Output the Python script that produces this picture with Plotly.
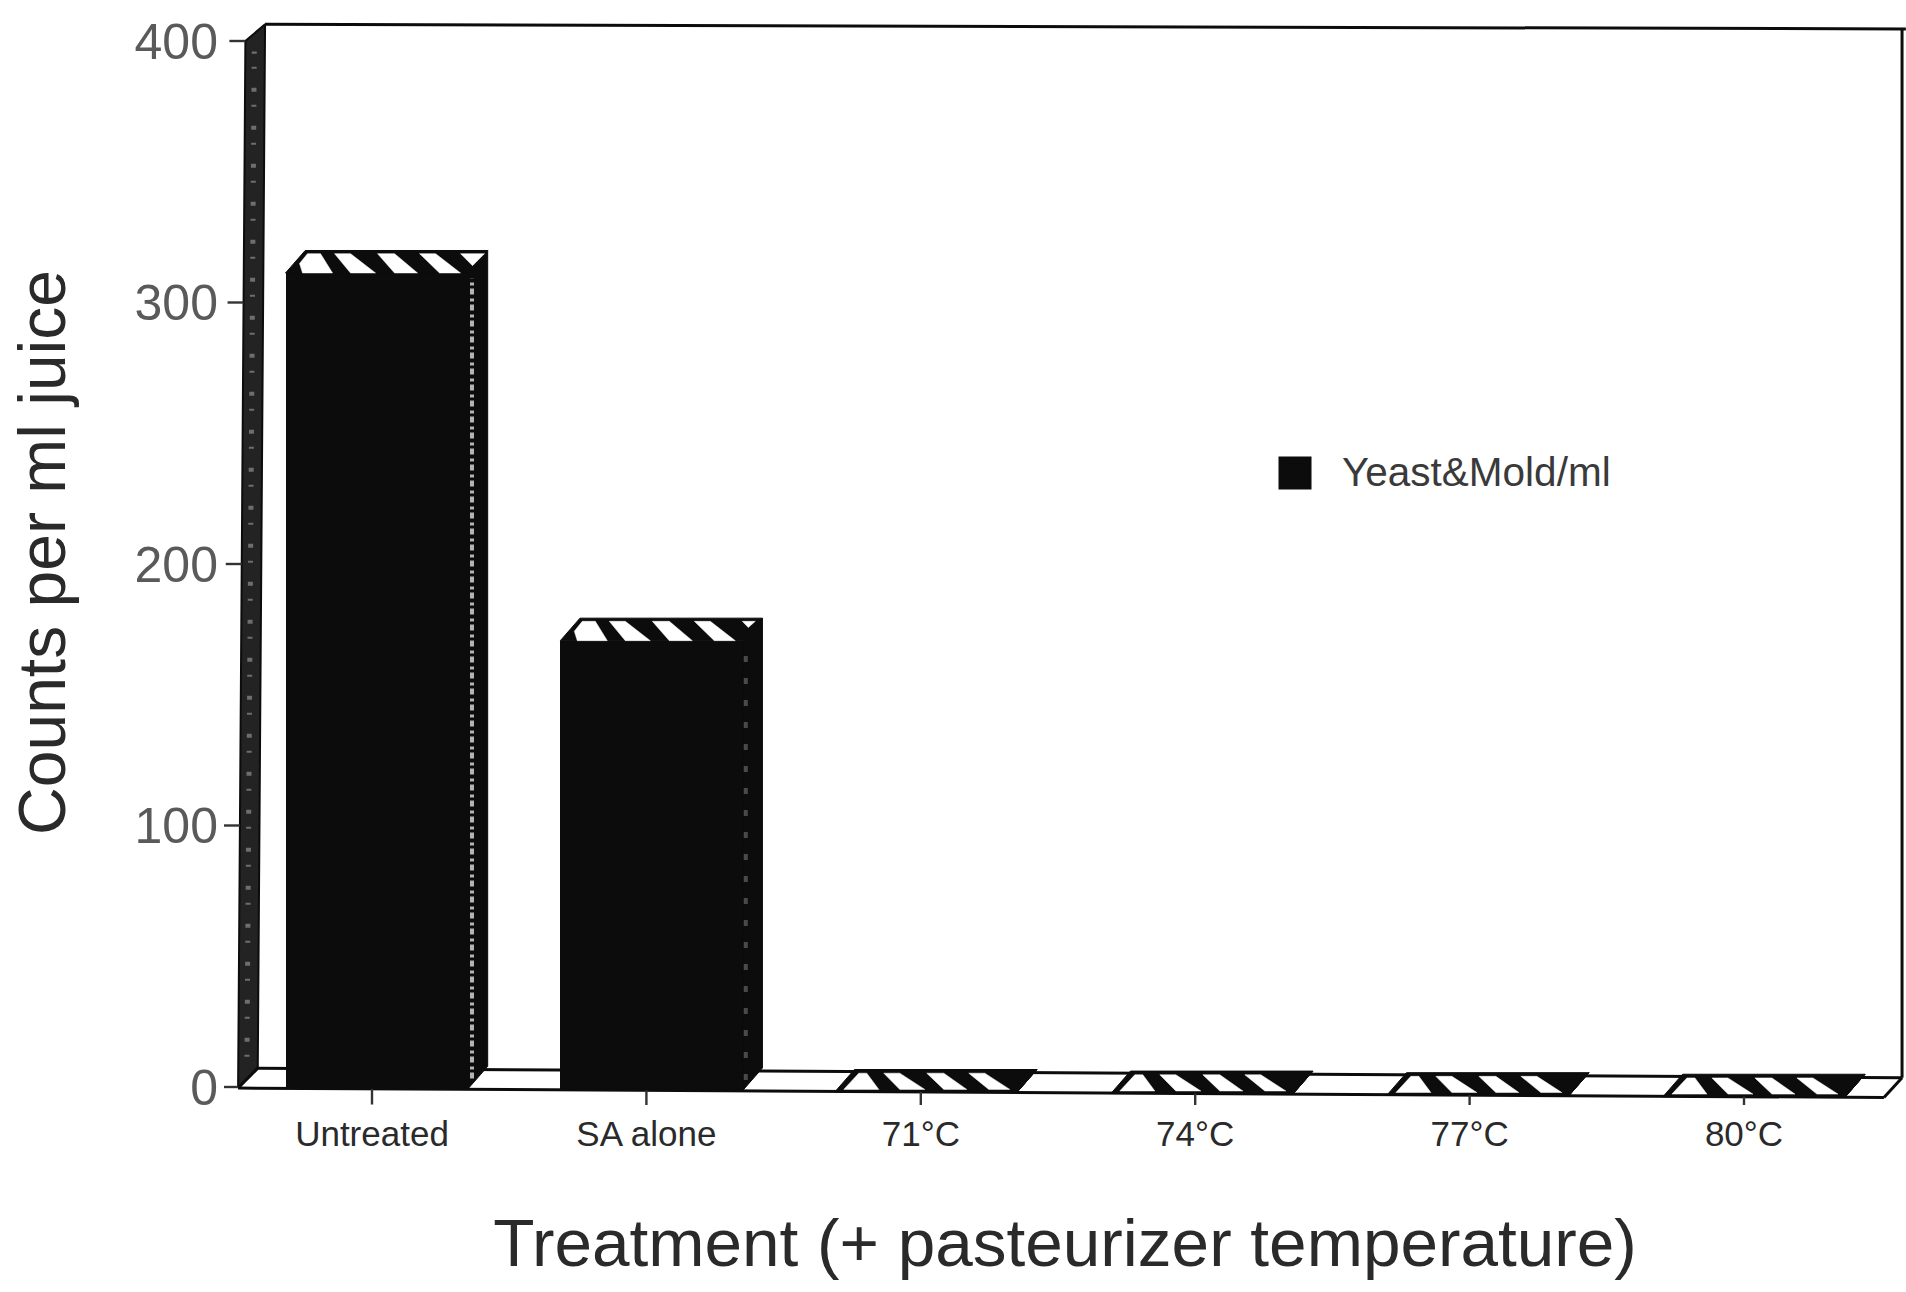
import plotly.graph_objects as go

# ---- data ----
categories = ["Untreated", "SA alone", "71°C", "74°C", "77°C", "80°C"]
yeast_mold = [312, 172, 0, 0, 0, 0]
y_ticks = [0, 100, 200, 300, 400]
series_name = "Yeast&Mold/ml"
x_title = "Treatment (+ pasteurizer temperature)"
y_title = "Counts per ml juice"

# ---- layout constants (the scan is slightly rotated) ----
W, H = 1906, 1292
PL, PR, PT, PB = 224, 1906, 0, 1105      # plot area in px
X0, XS = 372, 274.4                      # px of x=0, px per category
Y0, YS = 1087, 2.615                     # px of y=0, px per value unit
TILT_Y = 0.6                             # value units lost per category
TILT_X = 6.65e-5                         # categories gained per value unit
DX, DY = 0.0717, 8.6                     # 3-D depth
BAR_W = 0.665
FLOOR = -0.4
INK = "#0c0c0c"


def floor_y(x):
    return FLOOR - TILT_Y * (x + 0.5)


def px(p):
    return p / XS


bar_x = [i * 1.006 + 0.007 + TILT_X * v / 2 for i, v in enumerate(yeast_mold)]
bar_base = [floor_y(x) for x in bar_x]


def poly(points):
    xs = [p[0] for p in points] + [points[0][0], None]
    ys = [p[1] for p in points] + [points[0][1], None]
    return xs, ys


def gather(polys):
    xs, ys = [], []
    for p in polys:
        a, b = poly(p)
        xs += a
        ys += b
    return xs, ys


def segs(pairs):
    xs, ys = [], []
    for (a, b) in pairs:
        xs += [a[0], b[0], None]
        ys += [a[1], b[1], None]
    return xs, ys


fig = go.Figure()

# bars: the real data marks
fig.add_trace(go.Bar(
    x=bar_x, y=yeast_mold, base=bar_base, width=BAR_W, name=series_name,
    marker=dict(color=INK, line=dict(width=0)), showlegend=True, hoverinfo="x+y",
))

# side wall
wall_front_bottom = -0.488
wall_top = 400
wall_front_top = wall_front_bottom + TILT_X * wall_top
wall = [(wall_front_bottom, FLOOR), (wall_front_top, wall_top),
        (wall_front_top + DX, wall_top + 6.4), (wall_front_bottom + DX, FLOOR + 7.6)]
wx, wy = poly(wall)
fig.add_trace(go.Scatter(x=wx, y=wy, mode="lines", fill="toself", fillcolor="#232323",
                         line=dict(color=INK, width=2), hoverinfo="skip", showlegend=False))
# speckle on the scanned wall
fig.add_trace(go.Scatter(
    x=[wall_front_bottom + DX * 0.45, wall_front_top + DX * 0.45], y=[FLOOR + 12, wall_top - 4],
    mode="lines", line=dict(color="#6e6e6e", width=5, dash="2px,13px,4px,19px"),
    hoverinfo="skip", showlegend=False))

# floor and back-wall outline
floor_end = 5.51
back_end = 5.576
outline = [
    ((wall_front_bottom, floor_y(wall_front_bottom)), (floor_end, floor_y(floor_end))),
    ((wall_front_bottom + DX, floor_y(wall_front_bottom) + 7.6), (back_end, floor_y(back_end) + 7.6)),
    ((wall_front_bottom, floor_y(wall_front_bottom)), (wall_front_bottom + DX, floor_y(wall_front_bottom) + 7.6)),
    ((floor_end, floor_y(floor_end)), (back_end, floor_y(back_end) + 7.6)),
    ((back_end, floor_y(back_end) + 7.6), (back_end, 404.6)),
    ((wall_front_top + DX, 406.4), (5.59, 404.6)),
]
ox, oy = segs(outline)
fig.add_trace(go.Scatter(x=ox, y=oy, mode="lines", line=dict(color=INK, width=3),
                         hoverinfo="skip", showlegend=False))

# bar sides and caps
dark, white = [], []
for x, b, v in zip(bar_x, bar_base, yeast_mold):
    xl, xr = x - BAR_W / 2, x + BAR_W / 2
    yf, yb = b + v, b + v + DY
    dark.append([(xl, yf), (xr, yf), (xr + DX, yb), (xl + DX, yb)])
    dark.append([(xr, b), (xr + DX, b + DY), (xr + DX, yb), (xr, yf)])
    top, bot = yb - 1.2, yf
    first = [(22, top), (35, top), (47, bot), (17, bot), (14, bot + 3.6)]
    if v < 5:
        top, bot = yb - 1.4, yf + 1.0
        first = [(24, top), (32, top), (44, bot), (9, bot)]
    stripes = [
        first,
        [(49, top), (65, top), (90, bot), (65, bot)],
        [(92, top), (109, top), (132, bot), (109, bot)],
        [(134, top), (150, top), (175, bot), (154, bot)],
    ]
    if v > 250:
        stripes.append([(175, top), (199, top), (187, top - 4.6)])
    elif v > 5:
        stripes.append([(182, top), (195, top), (188, top - 2.4)])
    for s in stripes:
        white.append([(xl + px(p[0]), p[1]) for p in s])

dx_, dy_ = gather(dark)
fig.add_trace(go.Scatter(x=dx_, y=dy_, mode="lines", fill="toself", fillcolor=INK,
                         line=dict(color=INK, width=1), hoverinfo="skip", showlegend=False))
sx, sy = gather(white)
fig.add_trace(go.Scatter(x=sx, y=sy, mode="lines", fill="toself", fillcolor="white",
                         line=dict(color="white", width=0.5), hoverinfo="skip", showlegend=False))

# speckled highlight on the side faces of the tall bars
for x, b, v in zip(bar_x, bar_base, yeast_mold):
    if v > 250:
        colour, dash, shift = "#b4b4b4", "6px,3px,3px,4px", 4
    elif v > 5:
        colour, dash, shift = "#4a4a4a", "6px,16px", 3
    else:
        continue
    xh = x + BAR_W / 2 + px(shift)
    fig.add_trace(go.Scatter(x=[xh, xh], y=[b + 4, b + v - 2], mode="lines",
                             line=dict(color=colour, width=4, dash=dash),
                             hoverinfo="skip", showlegend=False))

# tick marks following the tilted scan
tick_pairs = []
for t in y_ticks:
    xw = wall_front_bottom + TILT_X * t
    tick_pairs.append(((xw - px(16), t), (xw, t)))
for i in range(len(categories)):
    tick_pairs.append(((i, floor_y(i)), (i, floor_y(i) - 6)))
tx, ty = segs(tick_pairs)
fig.add_trace(go.Scatter(x=tx, y=ty, mode="lines", line=dict(color="#333333", width=2.4),
                         hoverinfo="skip", showlegend=False))

# large legend swatch over the legend's own key
fig.add_trace(go.Scatter(x=[(1295 - X0) / XS], y=[(Y0 - 473) / YS], mode="markers",
                         marker=dict(symbol="square", size=33, color=INK),
                         hoverinfo="skip", showlegend=False))

fig.update_layout(
    width=W, height=H, autosize=False,
    margin=dict(l=PL, r=W - PR, t=PT, b=H - PB, autoexpand=False),
    paper_bgcolor="white", plot_bgcolor="white",
    font=dict(family="Liberation Sans, Arial, sans-serif", color="#333333"),
    showlegend=True,
    legend=dict(x=(1250 - PL) / (PR - PL), y=1 - 470 / PB, xanchor="left", yanchor="middle",
                itemwidth=82, font=dict(size=40.5, color="#3a3a3a"),
                bgcolor="rgba(0,0,0,0)", borderwidth=0),
    bargap=0,
    xaxis=dict(
        range=[(PL - X0) / XS, (PR - X0) / XS], tickmode="array",
        tickvals=list(range(len(categories))), ticktext=categories,
        ticks="", showgrid=False, zeroline=False, showline=False,
        ticklabelstandoff=5,
        tickfont=dict(size=35, color="#2a2a2a"),
        title=dict(text=x_title, standoff=66, font=dict(size=67.5, color="#2a2a2a")),
    ),
    yaxis=dict(
        range=[(Y0 - PB) / YS, Y0 / YS], tickmode="array", tickvals=y_ticks,
        ticks="", showgrid=False, zeroline=False, showline=False,
        ticklabelstandoff=5,
        tickfont=dict(size=50, color="#5a5a5a"),
        title=dict(text=y_title, standoff=47, font=dict(size=66, color="#2a2a2a")),
    ),
)

fig.write_html("out.html", config={"displayModeBar": False},
               post_script="document.body.style.margin='0';")
